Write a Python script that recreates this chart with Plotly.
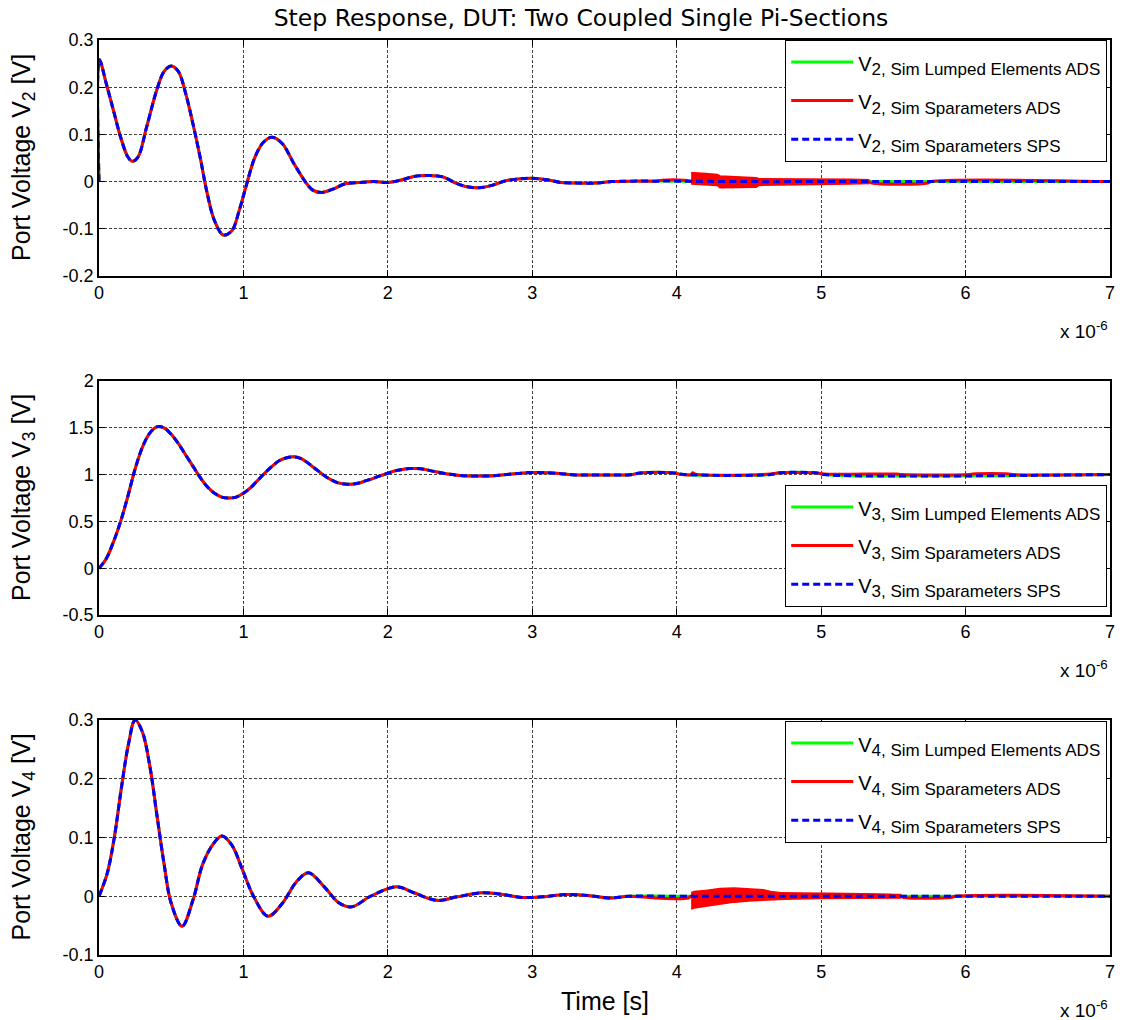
import plotly.graph_objects as go

# ---- time axis (microseconds) and port voltages -------------------------
# V2: near-end coupled port
v2_t = [0, 0.003, 0.05, 0.1, 0.15, 0.2, 0.23, 0.27, 0.33, 0.4, 0.45, 0.5, 0.55,
        0.6, 0.65, 0.7, 0.75, 0.8, 0.86, 0.92, 0.97, 1.02, 1.08, 1.14, 1.2,
        1.27, 1.35, 1.43, 1.48, 1.54, 1.62, 1.7, 1.8, 1.9, 2.0, 2.1, 2.18,
        2.28, 2.38, 2.47, 2.55, 2.63, 2.72, 2.82, 2.92, 3.0, 3.1, 3.2, 3.3,
        3.45, 3.55, 3.7, 3.85, 4.0, 4.5, 5.0, 6.0, 7.0]
v2_v = [0, 0.258, 0.208, 0.151, 0.094, 0.052, 0.043, 0.052, 0.116, 0.194,
        0.233, 0.245, 0.233, 0.187, 0.123, 0.052, -0.026, -0.083, -0.113,
        -0.104, -0.062, -0.008, 0.052, 0.084, 0.094, 0.080, 0.038, -0.001,
        -0.018, -0.023, -0.016, -0.005, -0.002, 0.0, -0.002, 0.004, 0.011,
        0.013, 0.010, -0.003, -0.011, -0.013, -0.008, 0.002, 0.006, 0.007,
        0.004, -0.002, -0.003, -0.003, 0.0, 0.001, 0.001, 0.001, 0.0, 0.0,
        0.0, 0.0]
# S-parameter ADS run deviates after 3.85 us
v2_red_tail_t = [3.9, 4.05, 4.09, 4.1, 5.33, 5.35, 5.74, 5.76, 7.0]
v2_red_tail_v = [0.003, 0.003, 0.001, 0.0, 0.0, -0.003, -0.003, 0.0, 0.0]
# ringing envelope of the S-parameter ADS run
v2_ring_t = [4.10, 4.12, 4.20, 4.28, 4.30, 4.45, 4.55, 4.57, 4.80, 5.00, 5.20, 5.33]
v2_ring_hi = [0.019, 0.019, 0.017, 0.015, 0.012, 0.009, 0.008, 0.006, 0.006, 0.005, 0.005, 0.004]
v2_ring_lo = [-0.005, -0.006, -0.007, -0.008, -0.013, -0.013, -0.012, -0.008, -0.007, -0.006, -0.005, -0.004]

# V3: through port
v3_t = [0, 0.05, 0.1, 0.15, 0.2, 0.25, 0.3, 0.35, 0.4, 0.45, 0.5, 0.55, 0.6,
        0.65, 0.7, 0.75, 0.8, 0.85, 0.9, 0.95, 1.0, 1.05, 1.1, 1.15, 1.2,
        1.25, 1.3, 1.35, 1.4, 1.45, 1.5, 1.55, 1.6, 1.65, 1.7, 1.75, 1.8,
        1.85, 1.9, 1.95, 2.0, 2.05, 2.1, 2.15, 2.2, 2.25, 2.3, 2.35, 2.4,
        2.45, 2.5, 2.6, 2.7, 2.8, 2.9, 3.0, 3.1, 3.2, 3.3, 3.5, 3.68, 3.75,
        3.98, 4.05, 4.65, 4.7, 4.97, 5.02, 7.0]
v3_v = [0, 0.10, 0.28, 0.50, 0.77, 1.06, 1.29, 1.44, 1.51, 1.50, 1.43, 1.33,
        1.21, 1.09, 0.97, 0.87, 0.80, 0.76, 0.75, 0.76, 0.80, 0.86, 0.94,
        1.02, 1.09, 1.15, 1.18, 1.19, 1.17, 1.12, 1.06, 1.00, 0.95, 0.915,
        0.90, 0.897, 0.91, 0.935, 0.96, 0.99, 1.015, 1.04, 1.055, 1.065,
        1.065, 1.058, 1.04, 1.025, 1.01, 1.0, 0.99, 0.985, 0.986, 0.998,
        1.012, 1.022, 1.02, 1.01, 0.997, 0.996, 0.998, 1.018, 1.018, 1.002,
        1.0, 1.018, 1.018, 1.0, 1.0]
v3_red_tail_t = [4.03, 4.1, 4.11, 4.13, 4.65, 4.7, 4.97, 5.02, 5.52, 5.56,
                 6.02, 6.05, 6.3, 6.33, 7.0]
v3_red_tail_v = [1.0, 1.0, 1.02, 1.005, 1.006, 1.018, 1.018, 1.006, 1.006,
                 1.0, 1.0, 1.007, 1.007, 1.0, 1.0]

# V4: far-end coupled port
v4_t = [0, 0.057, 0.106, 0.156, 0.205, 0.25, 0.3, 0.353, 0.4, 0.45, 0.5,
        0.575, 0.65, 0.72, 0.8, 0.852, 0.92, 0.995, 1.07, 1.17, 1.27, 1.365,
        1.45, 1.56, 1.66, 1.75, 1.88, 2.06, 2.18, 2.34, 2.48, 2.65, 2.77,
        2.93, 3.07, 3.23, 3.4, 3.53, 3.67, 4.0, 7.0]
v4_v = [0, 0.039, 0.10, 0.186, 0.26, 0.30, 0.28, 0.22, 0.14, 0.056, -0.012,
        -0.051, -0.007, 0.056, 0.092, 0.1025, 0.087, 0.044, 0.0, -0.034,
        -0.012, 0.024, 0.040, 0.016, -0.011, -0.018, 0.0, 0.016, 0.006,
        -0.007, -0.001, 0.006, 0.004, -0.002, -0.001, 0.003, 0.001, -0.003,
        0.0, 0.0, 0.0]
v4_red_tail_t = [3.85, 4.08, 4.1, 5.55, 5.57, 5.9, 5.93, 7.0]
v4_red_tail_v = [-0.003, -0.003, 0.0, 0.0, -0.002, -0.002, 0.0, 0.0]
v4_ring_t = [4.10, 4.12, 4.20, 4.30, 4.40, 4.50, 4.60, 4.65, 4.75, 4.98, 5.02, 5.30, 5.55]
v4_ring_hi = [0.006, 0.008, 0.010, 0.013, 0.014, 0.013, 0.011, 0.008, 0.005, 0.004, 0.004, 0.004, 0.003]
v4_ring_lo = [-0.022, -0.020, -0.017, -0.013, -0.010, -0.008, -0.007, -0.006, -0.005, -0.004, -0.003, -0.003, -0.003]

# ---- labels and ticks ----------------------------------------------------
chart_title = "Step Response, DUT: Two Coupled Single Pi-Sections"
series_names = ["Sim Lumped Elements ADS", "Sim Sparameters ADS", "Sim Sparameters SPS"]
port_numbers = [2, 3, 4]
x_tickvals = [0, 1, 2, 3, 4, 5, 6, 7]
x_ticktext = ["0", "1", "2", "3", "4", "5", "6", "7"]
y1_tickvals = [-0.2, -0.1, 0, 0.1, 0.2, 0.3]
y1_ticktext = ["-0.2", "-0.1", "0", "0.1", "0.2", "0.3"]
y2_tickvals = [-0.5, 0, 0.5, 1, 1.5, 2]
y2_ticktext = ["-0.5", "0", "0.5", "1", "1.5", "2"]
y3_tickvals = [-0.1, 0, 0.1, 0.2, 0.3]
y3_ticktext = ["-0.1", "0", "0.1", "0.2", "0.3"]

GREEN, RED, BLUE = "#00ff00", "#ff0000", "#0000ff"
ARIAL = "Liberation Sans"

panels = [
    dict(port=2, t=v2_t, v=v2_v, red_cut=3.85, tail_t=v2_red_tail_t, tail_v=v2_red_tail_v,
         ring=(v2_ring_t, v2_ring_hi, v2_ring_lo)),
    dict(port=3, t=v3_t, v=v3_v, red_cut=3.98, tail_t=v3_red_tail_t, tail_v=v3_red_tail_v,
         ring=None),
    dict(port=4, t=v4_t, v=v4_v, red_cut=3.67, tail_t=v4_red_tail_t, tail_v=v4_red_tail_v,
         ring=(v4_ring_t, v4_ring_hi, v4_ring_lo)),
]

fig = go.Figure()

for i, p in enumerate(panels, start=1):
    xa = "x" if i == 1 else f"x{i}"
    ya = "y" if i == 1 else f"y{i}"
    lg = "legend" if i == 1 else f"legend{i}"
    names = [f'<span style="font-size:20px">V</span>'
             f'<sub><span style="font-size:17px">{p["port"]}, {s}</span></sub>'
             for s in series_names]

    red_t = [t for t in p["t"] if t <= p["red_cut"]] + p["tail_t"]
    red_v = [v for t, v in zip(p["t"], p["v"]) if t <= p["red_cut"]] + p["tail_v"]

    fig.add_trace(go.Scatter(x=p["t"], y=p["v"], mode="lines", name=names[0],
                             line=dict(color=GREEN, width=3, shape="spline", smoothing=1.0),
                             xaxis=xa, yaxis=ya, legend=lg, legendgroup=f"g{i}a"))
    fig.add_trace(go.Scatter(x=red_t, y=red_v, mode="lines", name=names[1],
                             line=dict(color=RED, width=3, shape="spline", smoothing=1.0),
                             xaxis=xa, yaxis=ya, legend=lg, legendgroup=f"g{i}b"))
    if p["ring"] is not None:
        rt, rhi, rlo = p["ring"]
        fig.add_trace(go.Scatter(x=rt + rt[::-1], y=rhi + rlo[::-1], mode="lines",
                                 fill="toself", fillcolor=RED,
                                 line=dict(color=RED, width=1.5),
                                 xaxis=xa, yaxis=ya, showlegend=False, hoverinfo="skip"))
    fig.add_trace(go.Scatter(x=p["t"], y=p["v"], mode="lines", name=names[2],
                             line=dict(color=BLUE, width=3, dash="7px,4px",
                                       shape="spline", smoothing=1.0),
                             xaxis=xa, yaxis=ya, legend=lg, legendgroup=f"g{i}c"))

# plot-area geometry (pixels in a 1124 x 1020 page)
W, H = 1124, 1020
L, R, T, B = 99, 9, 40, 65
pw = W - L - R
ph = H - T - B
def dom(top_px, bot_px):
    return [(H - B - bot_px) / ph, (H - B - top_px) / ph]

y_domains = [dom(40, 276), dom(381, 615), dom(720, 955)]
y_ranges = [[-0.2, 0.3], [-0.5, 2], [-0.1, 0.3]]
y_ticks = [(y1_tickvals, y1_ticktext), (y2_tickvals, y2_ticktext), (y3_tickvals, y3_ticktext)]

axis_common = dict(showline=True, linecolor="black", linewidth=1.5, mirror="ticks",
                   ticks="inside", ticklen=6, tickcolor="black", tickwidth=1,
                   showgrid=True, gridcolor="rgba(0,0,0,0.75)", gridwidth=1,
                   griddash="3px,2px", zeroline=False,
                   tickfont=dict(family=ARIAL, size=18, color="black"))

layout = dict(width=W, height=H, margin=dict(l=L, r=R, t=T, b=B),
              plot_bgcolor="white", paper_bgcolor="white", showlegend=True,
              title=dict(text=chart_title, x=581 / W, xanchor="center",
                         y=1 - 18 / H, yanchor="middle", yref="container",
                         font=dict(family="DejaVu Sans", size=23.5, color="black")))

annotations = []
legend_tops = [40, 485, 721]
for i in range(1, 4):
    xk = "xaxis" if i == 1 else f"xaxis{i}"
    yk = "yaxis" if i == 1 else f"yaxis{i}"
    ya = "y" if i == 1 else f"y{i}"
    xa = "x" if i == 1 else f"x{i}"
    layout[xk] = dict(axis_common, domain=[0, 1], range=[0, 7], anchor=ya,
                      tickvals=x_tickvals, ticktext=x_ticktext)
    tv, tt = y_ticks[i - 1]
    layout[yk] = dict(axis_common, domain=y_domains[i - 1], range=y_ranges[i - 1],
                      anchor=xa, tickvals=tv, ticktext=tt)
    annotations.append(dict(text=f"Port Voltage V<sub>{port_numbers[i - 1]}</sub> [V]",
                            xref="paper", x=0, xshift=-76, xanchor="center",
                            yref=f"{ya} domain", y=0.5, yanchor="middle",
                            textangle=-90, showarrow=False,
                            font=dict(family=ARIAL, size=25, color="black")))
    annotations.append(dict(text="x 10<sup>-6</sup>", xref=f"{xa} domain", x=1,
                            xanchor="right", yref=f"{ya} domain", y=0, yanchor="top",
                            yshift=-40, showarrow=False,
                            font=dict(family=ARIAL, size=19, color="black")))
    lg = "legend" if i == 1 else f"legend{i}"
    layout[lg] = dict(x=1 - 3 / pw, xanchor="right",
                      y=(H - B - legend_tops[i - 1]) / ph, yanchor="top",
                      bordercolor="black", borderwidth=1.2, bgcolor="white",
                      tracegroupgap=7, itemwidth=62,
                      font=dict(family=ARIAL, size=22, color="black"))

annotations.append(dict(text="Time [s]", xref="paper", x=0.5, xanchor="center",
                        yref="paper", y=0, yshift=-46, yanchor="middle", showarrow=False,
                        font=dict(family=ARIAL, size=25, color="black")))
layout["annotations"] = annotations

fig.update_layout(**layout)
fig.write_html("out.html")
